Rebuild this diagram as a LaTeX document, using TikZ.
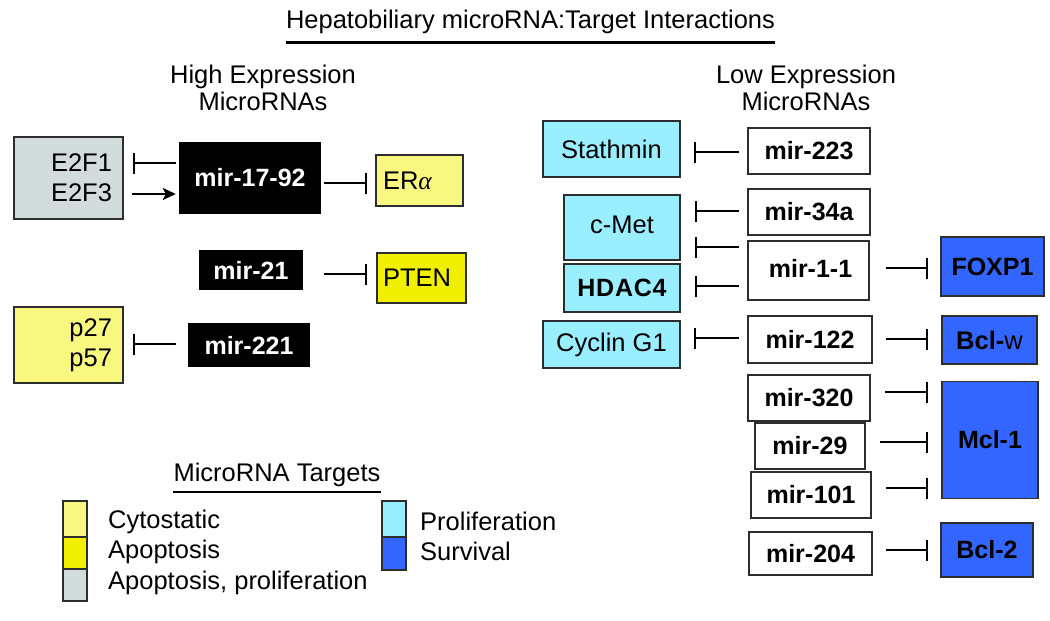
\documentclass[tikz,border=0pt]{standalone}
\usepackage{fontspec}
\setmainfont{Liberation Sans}
\newfontfamily\serifalpha{Liberation Serif}
\usetikzlibrary{calc}
\usetikzlibrary{arrows,arrows.meta}

\definecolor{cytoY}{RGB}{248,248,128}
\definecolor{apoY}{RGB}{240,240,0}
\definecolor{apoG}{RGB}{210,220,220}
\definecolor{proC}{RGB}{153,238,255}
\definecolor{surB}{RGB}{51,102,255}
\definecolor{edge}{RGB}{45,45,45}

\tikzset{
 txt/.style={font=\fontsize{25.5}{27}\selectfont, inner sep=0},
 tgt/.style={draw=edge, line width=1.5pt, inner sep=0, font=\fontsize{25.5}{30}\selectfont},
 blk/.style={fill=black, text=white, inner sep=0, font=\fontsize{25}{29}\selectfont\bfseries},
 wht/.style={draw=edge, fill=white, line width=1.5pt, inner sep=0, font=\fontsize{25}{29}\selectfont\bfseries},
 bld/.style={font=\fontsize{25}{29}\selectfont\bfseries},
 inh/.style={line width=2pt, -{Bar[width=21pt]}},
 act/.style={line width=2pt, -{Stealth[length=13pt,width=12pt,inset=3pt]}},
}

\begin{document}
\begin{tikzpicture}[x=1pt,y=-1pt]
\useasboundingbox (0,0) rectangle (1050,621);
% title
\node[txt, font=\fontsize{25.5}{28}\selectfont] (title) at (530.5,22) {Hepatobiliary microRNA:Target Interactions};
\draw[line width=3pt] (title.west |- 0,42) -- (title.east |- 0,42);
\node[txt, align=center] (high) at (263,88) {High Expression\\MicroRNAs};
\node[txt, align=center] (low) at (806,88) {Low Expression\\MicroRNAs};

% high expression side
\node[tgt, fill=apoG, minimum width=109, minimum height=82, text width=87, align=right] (e2f) at (68.5,178) {E2F1\\E2F3};
\node[blk, minimum width=142, minimum height=72] (m1792) at (250,178) {mir-17-92};
\node[tgt, fill=cytoY, minimum width=87, minimum height=51, text width=73, align=left] (era) at (419.5,180.5) {ER{\serifalpha\itshape α}};
\node[blk, minimum width=104, minimum height=40] (m21) at (251,270) {mir-21};
\node[tgt, fill=apoY, minimum width=89, minimum height=50, text width=77, align=left] (pten) at (421.5,278) {PTEN};
\node[tgt, fill=cytoY, minimum width=109, minimum height=76, text width=87, align=right] (p27) at (68.5,345) {p27\\p57};
\node[blk, minimum width=122, minimum height=44] (m221) at (249,345) {mir-221};

\draw[inh, shorten <=3, shorten >=9] (m1792.west |- 0,163) -- (e2f.east |- 0,163);
\draw[act, shorten <=8, shorten >=3] (e2f.east |- 0,194) -- (m1792.west |- 0,194);
\draw[inh, shorten <=3, shorten >=8] (m1792.east |- 0,183) -- (era.west |- 0,183);
\draw[inh, shorten <=21, shorten >=9] (m21.east |- 0,274) -- (pten.west |- 0,274);
\draw[inh, shorten <=12, shorten >=9] (m221.west |- 0,344) -- (p27.east |- 0,344);

% low expression side
\node[tgt, fill=proC, minimum width=137, minimum height=56] (stath) at (611.5,149) {Stathmin};
\node[tgt, fill=proC, minimum width=116, minimum height=65] (cmet) at (622,227.5) {\raisebox{5pt}{c-Met}};
\node[tgt, fill=proC, minimum width=116, minimum height=48, bld] (hdac) at (622,288) {\addfontfeatures{LetterSpace=3}HDAC4};
\node[tgt, fill=proC, minimum width=137, minimum height=47] (cyc) at (611.5,344.5) {Cyclin G1};

\node[wht, minimum width=122, minimum height=46] (m223) at (809,151) {mir-223};
\node[wht, minimum width=122, minimum height=46] (m34a) at (809,212) {mir-34a};
\node[wht, minimum width=121, minimum height=59] (m11) at (808.5,270.5) {\hspace{4pt}\raisebox{5pt}{mir-1-1}};
\node[wht, minimum width=124, minimum height=47] (m122) at (810,339.5) {mir-122};
\node[wht, minimum width=122, minimum height=46] (m320) at (809,398) {mir-320};
\node[wht, minimum width=110, minimum height=46] (m29) at (810,446) {mir-29};
\node[wht, minimum width=120, minimum height=46] (m101) at (811,495) {mir-101};
\node[wht, minimum width=123, minimum height=43] (m204) at (810.5,553.5) {mir-204};

\node[tgt, fill=surB, minimum width=103, minimum height=59, bld] (foxp1) at (992.5,266.5) {FOXP1};
\node[tgt, fill=surB, minimum width=95, minimum height=48] (bclw) at (989.5,340) {\textbf{Bcl-}w};
\node[tgt, fill=surB, minimum width=96, minimum height=117, bld] (mcl1) at (990,440) {Mcl-1};
\node[tgt, fill=surB, minimum width=92, minimum height=54, bld] (bcl2) at (987,550) {Bcl-2};

\draw[inh, shorten <=8, shorten >=13] (m223.west |- 0,152) -- (stath.east |- 0,152);
\draw[inh, shorten <=8, shorten >=14] (m34a.west |- 0,211) -- (cmet.east |- 0,211);
\draw[inh, shorten <=8, shorten >=14] (m11.west |- 0,247) -- (cmet.east |- 0,247);
\draw[inh, shorten <=8, shorten >=14] (m11.west |- 0,286) -- (hdac.east |- 0,286);
\draw[inh, shorten <=8, shorten >=13] (m122.west |- 0,338) -- (cyc.east |- 0,338);
\draw[inh, shorten <=16, shorten >=12] (m11.east |- 0,268) -- (foxp1.west |- 0,268);
\draw[inh, shorten <=13, shorten >=13] (m122.east |- 0,339) -- (bclw.west |- 0,339);
\foreach \m/\y in {m320/392, m29/442, m101/488} {
 \draw[inh, shorten <=14, shorten >=13] (\m.east |- 0,\y) -- (mcl1.west |- 0,\y);
}
\draw[inh, shorten <=13, shorten >=12] (m204.east |- 0,550) -- (bcl2.west |- 0,550);

% legend
\node[txt] (leg) at (277,475) {MicroRNA Targets};
\draw[line width=2pt] (leg.west |- 0,492) -- (leg.east |- 0,492);
\foreach \c/\a/\b in {cytoY/501/537, apoY/537/569, apoG/569/601} {
 \filldraw[fill=\c, draw=edge, line width=1.2pt] (63,\a) rectangle (87,\b);
}
\foreach \c/\a/\b in {proC/501/537, surB/537/570} {
 \filldraw[fill=\c, draw=edge, line width=1.2pt] (382,\a) rectangle (406,\b);
}
\node[txt, anchor=west] (lcyto) at (108,522) {Cytostatic};
\node[txt, anchor=west] (lapo) at (108,552) {Apoptosis};
\node[txt, anchor=west] (lapopro) at (108,583) {Apoptosis, proliferation};
\node[txt, anchor=west] (lpro) at (420,521) {Proliferation};
\node[txt, anchor=west] (lsur) at (420,551) {Survival};
\end{tikzpicture}
\end{document}
